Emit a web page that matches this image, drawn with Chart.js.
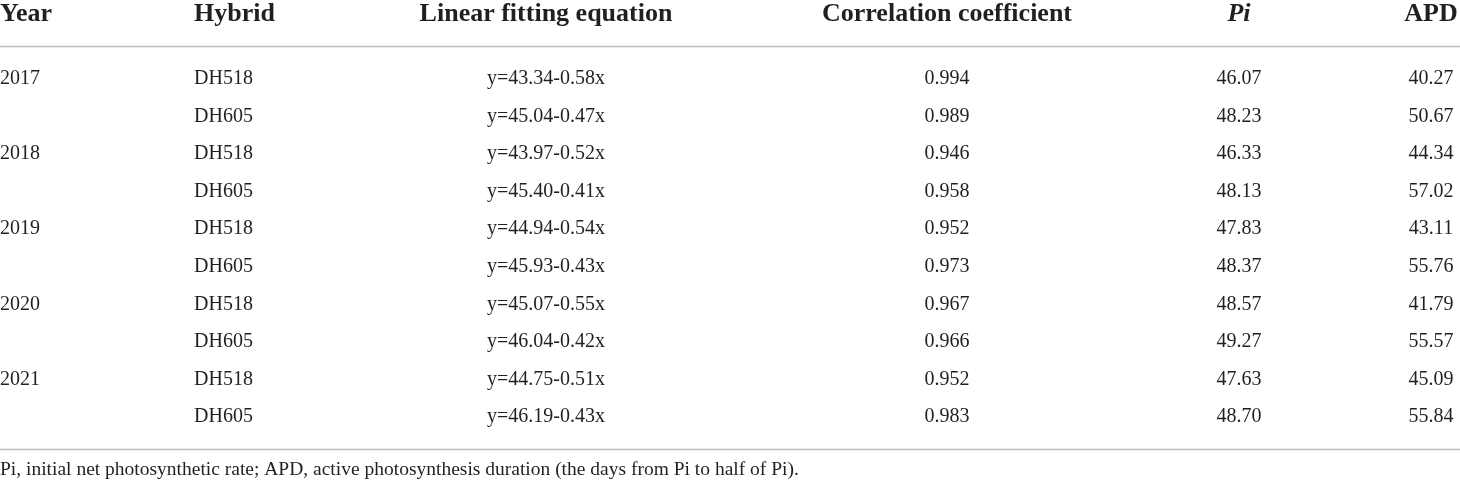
<!DOCTYPE html>
<html>
<head>
	<title>Linear fitting of net photosynthetic rate</title>
	<style>
		body { margin: 0; background: #fff; overflow: hidden; }
		#tableChart { display: block; }
	</style>
</head>
<body>
<canvas id="tableChart" width="1460" height="482"></canvas>
<script src="https://cdn.jsdelivr.net/npm/chart.js@4.4.1/dist/chart.umd.min.js"></script>
<script>
  // table content
  var HEADERS = ['Year', 'Hybrid', 'Linear fitting equation', 'Correlation coefficient', 'Pi', 'APD'];
  var YEARS = ['2017', '2018', '2019', '2020', '2021'];
  var HYBRIDS = ['DH518', 'DH605'];
  var EQUATIONS = ['y=43.34-0.58x', 'y=45.04-0.47x', 'y=43.97-0.52x', 'y=45.40-0.41x', 'y=44.94-0.54x',
                   'y=45.93-0.43x', 'y=45.07-0.55x', 'y=46.04-0.42x', 'y=44.75-0.51x', 'y=46.19-0.43x'];
  var CORRELATION = [0.994, 0.989, 0.946, 0.958, 0.952, 0.973, 0.967, 0.966, 0.952, 0.983];
  var PI_VALUES = [46.07, 48.23, 46.33, 48.13, 47.83, 48.37, 48.57, 49.27, 47.63, 48.70];
  var APD_VALUES = [40.27, 50.67, 44.34, 57.02, 43.11, 55.76, 41.79, 55.57, 45.09, 55.84];
  var FOOTNOTE = 'Pi, initial net photosynthetic rate; APD, active photosynthesis duration (the days from Pi to half of Pi).';

  // layout of the columns on the x scale (pixels of a 1460 wide table)
  var COL_X = [0, 194, 546, 947, 1239, 1431];
  var COL_ALIGN = ['left', 'left', 'center', 'center', 'center', 'center'];
  var TEXT_COLOR = '#231f20';
  var RULE_COLOR = '#bdbdbd';
  var SERIF = '"Liberation Serif", "DejaVu Serif", serif';

  function rowCells(i)
  {
    return [
      i % 2 == 0 ? YEARS[i / 2] : '',
      HYBRIDS[i % 2],
      EQUATIONS[i],
      CORRELATION[i].toFixed(3),
      PI_VALUES[i].toFixed(2),
      APD_VALUES[i].toFixed(2)
    ];
  }

  // one invisible point per cell, so the rows live on the chart's own scales
  var points = [];
  for (var i = 0; i < EQUATIONS.length; i++)
  {
    for (var c = 0; c < COL_X.length; c++)
      points.push({x: COL_X[c], y: i});
  }

  var tablePlugin = {
    id: 'tableText',
    afterDatasetsDraw: function(chart)
    {
      var ctx = chart.ctx;
      var xs = chart.scales.x, ys = chart.scales.y;
      ctx.save();
      ctx.fillStyle = TEXT_COLOR;
      ctx.textBaseline = 'alphabetic';

      // header
      for (var c = 0; c < HEADERS.length; c++)
      {
        ctx.font = (c == 4 ? 'italic ' : '') + 'bold 26px ' + SERIF;
        ctx.textAlign = COL_ALIGN[c];
        ctx.fillText(HEADERS[c], xs.getPixelForValue(COL_X[c]), ys.getPixelForValue(-1.7) + 8);
      }

      // body rows
      ctx.font = '20px ' + SERIF;
      for (var i = 0; i < EQUATIONS.length; i++)
      {
        var cells = rowCells(i);
        for (var c = 0; c < cells.length; c++)
        {
          ctx.textAlign = COL_ALIGN[c];
          ctx.fillText(cells[c], xs.getPixelForValue(COL_X[c]), ys.getPixelForValue(i) + 7);
        }
      }

      // rules
      ctx.strokeStyle = RULE_COLOR;
      ctx.lineWidth = 1.5;
      [-0.82, 9.89].forEach(function(v) {
        var y = Math.round(ys.getPixelForValue(v)) + 0.5;
        ctx.beginPath();
        ctx.moveTo(xs.left, y);
        ctx.lineTo(xs.right, y);
        ctx.stroke();
      });

      // footnote
      ctx.font = '19.5px ' + SERIF;
      ctx.textAlign = 'left';
      ctx.fillText(FOOTNOTE, xs.getPixelForValue(0), ys.getPixelForValue(10.4) + 7);
      ctx.restore();
    }
  };

  var ctxT = document.getElementById('tableChart').getContext('2d');
  var tableChart = new Chart(ctxT,
  {
    type: 'scatter',
    data: {
      datasets: [{
        label: 'cells',
        data: points,
        pointRadius: 0,
        pointHoverRadius: 0
      }]
    },
    options: {
      responsive: false,
      maintainAspectRatio: false,
      animation: false,
      devicePixelRatio: 1,
      layout: { padding: 0 },
      plugins: { legend: { display: false }, tooltip: { enabled: false } },
      scales: {
        x: { type: 'linear', display: false, min: 0, max: 1460 },
        y: { type: 'linear', display: false, reverse: true, min: -2.048, max: 10.77 }
      }
    },
    plugins: [tablePlugin]
  });
</script>
</body>
</html>
